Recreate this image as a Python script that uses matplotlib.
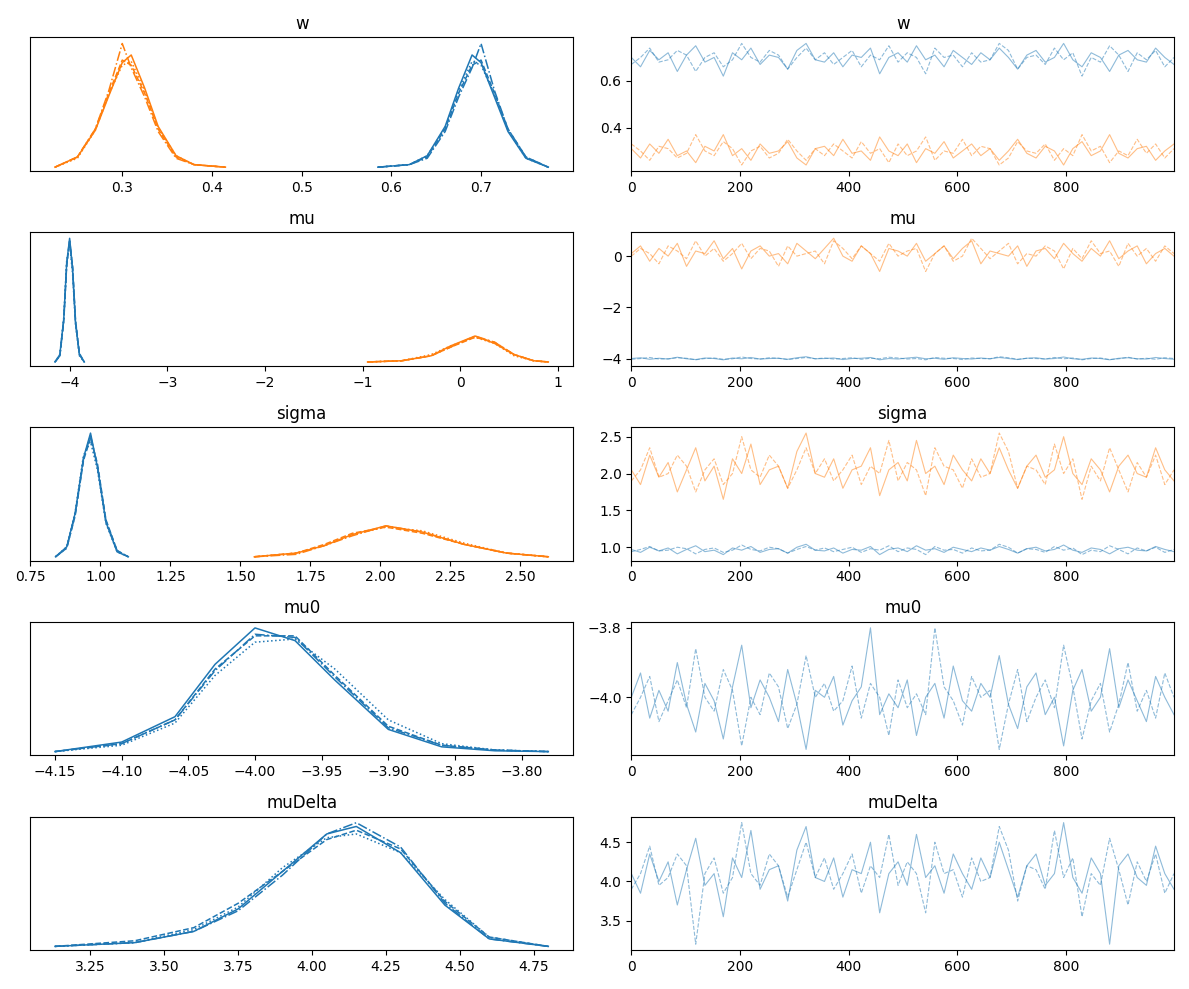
import numpy as np
import matplotlib
matplotlib.use("Agg")
import matplotlib.pyplot as plt

names = ["w", "mu", "sigma", "mu0", "muDelta"]
styles = ["-", "--", ":", "-."]

# KDE curves: x grid and density per chain (4 chains)
w_b_x = [0.585, 0.62, 0.64, 0.66, 0.675, 0.69, 0.70, 0.715, 0.73, 0.75, 0.775]
w_b_y = [[0, 0.02, 0.09, 0.32, 0.62, 0.88, 0.82, 0.55, 0.28, 0.07, 0],
         [0, 0.02, 0.08, 0.30, 0.58, 0.80, 0.84, 0.58, 0.30, 0.08, 0],
         [0, 0.02, 0.09, 0.31, 0.60, 0.83, 0.80, 0.57, 0.29, 0.07, 0],
         [0, 0.02, 0.07, 0.28, 0.55, 0.78, 0.97, 0.60, 0.30, 0.08, 0]]
w_o_x = [0.225, 0.25, 0.27, 0.285, 0.30, 0.31, 0.325, 0.34, 0.36, 0.38, 0.415]
w_o_y = [[0, 0.08, 0.29, 0.56, 0.82, 0.88, 0.62, 0.32, 0.09, 0.02, 0],
         [0, 0.08, 0.30, 0.58, 0.84, 0.80, 0.58, 0.30, 0.08, 0.02, 0],
         [0, 0.07, 0.29, 0.57, 0.80, 0.83, 0.60, 0.31, 0.09, 0.02, 0],
         [0, 0.08, 0.30, 0.60, 0.97, 0.78, 0.55, 0.28, 0.07, 0.02, 0]]
mu_b_x = [-4.15, -4.10, -4.06, -4.03, -4.0, -3.97, -3.94, -3.90, -3.85]
mu_b_y = [[0, 0.06, 0.35, 0.80, 1.0, 0.75, 0.32, 0.06, 0],
          [0, 0.05, 0.33, 0.78, 0.97, 0.78, 0.34, 0.07, 0],
          [0, 0.06, 0.36, 0.82, 0.95, 0.72, 0.30, 0.05, 0],
          [0, 0.05, 0.34, 0.79, 0.99, 0.76, 0.33, 0.06, 0]]
mu_o_x = [-0.95, -0.6, -0.3, -0.1, 0.15, 0.35, 0.55, 0.75, 0.9]
mu_o_y = [[0, 0.01, 0.05, 0.13, 0.21, 0.15, 0.06, 0.01, 0],
          [0, 0.01, 0.05, 0.12, 0.20, 0.16, 0.06, 0.01, 0],
          [0, 0.01, 0.06, 0.13, 0.20, 0.15, 0.05, 0.01, 0],
          [0, 0.01, 0.05, 0.12, 0.21, 0.16, 0.06, 0.01, 0]]
sg_b_x = [0.84, 0.88, 0.91, 0.94, 0.965, 0.99, 1.02, 1.06, 1.10]
sg_b_y = [[0, 0.08, 0.35, 0.80, 1.0, 0.72, 0.28, 0.04, 0],
          [0, 0.07, 0.33, 0.78, 0.96, 0.75, 0.30, 0.05, 0],
          [0, 0.08, 0.36, 0.82, 0.93, 0.70, 0.27, 0.04, 0],
          [0, 0.07, 0.34, 0.79, 0.98, 0.73, 0.29, 0.05, 0]]
sg_o_x = [1.55, 1.70, 1.80, 1.90, 2.02, 2.15, 2.30, 2.45, 2.60]
sg_o_y = [[0, 0.03, 0.09, 0.18, 0.25, 0.20, 0.10, 0.03, 0],
          [0, 0.03, 0.10, 0.19, 0.24, 0.19, 0.10, 0.03, 0],
          [0, 0.03, 0.09, 0.18, 0.24, 0.21, 0.11, 0.03, 0],
          [0, 0.02, 0.09, 0.17, 0.25, 0.20, 0.10, 0.03, 0]]
mu0_x = [-4.15, -4.10, -4.06, -4.03, -4.0, -3.97, -3.94, -3.90, -3.86, -3.82, -3.78]
mu0_y = [[0, 0.06, 0.22, 0.55, 0.78, 0.70, 0.45, 0.14, 0.03, 0.005, 0],
         [0, 0.05, 0.20, 0.52, 0.73, 0.73, 0.48, 0.16, 0.04, 0.01, 0],
         [0, 0.04, 0.18, 0.48, 0.69, 0.71, 0.52, 0.20, 0.05, 0.01, 0],
         [0, 0.05, 0.20, 0.51, 0.74, 0.72, 0.47, 0.15, 0.04, 0.01, 0]]
md_x = [3.13, 3.40, 3.60, 3.75, 3.90, 4.05, 4.15, 4.30, 4.45, 4.60, 4.80]
md_y = [[0, 0.02, 0.08, 0.20, 0.40, 0.60, 0.64, 0.50, 0.22, 0.04, 0],
        [0, 0.03, 0.10, 0.23, 0.40, 0.57, 0.62, 0.52, 0.24, 0.05, 0],
        [0, 0.02, 0.09, 0.21, 0.42, 0.58, 0.60, 0.50, 0.25, 0.05, 0],
        [0, 0.02, 0.08, 0.19, 0.38, 0.60, 0.66, 0.53, 0.23, 0.04, 0]]

# trace draws (read approximately)
w_b_tr = [0.70,0.66,0.73,0.69,0.72,0.64,0.71,0.75,0.68,0.70,0.62,0.72,0.69,0.74,0.67,0.71,0.70,0.65,0.73,0.76,
          0.69,0.68,0.72,0.66,0.71,0.70,0.74,0.63,0.70,0.72,0.68,0.75,0.69,0.71,0.66,0.73,0.70,0.67,0.72,0.69,
          0.74,0.70,0.65,0.71,0.73,0.68,0.70,0.76,0.69,0.66,0.72,0.70,0.64,0.71,0.73,0.69,0.68,0.74,0.70,0.67]
w_o_tr = [0.31,0.27,0.33,0.29,0.35,0.28,0.30,0.25,0.32,0.30,0.37,0.28,0.31,0.26,0.33,0.29,0.30,0.34,0.27,0.24,
          0.31,0.32,0.28,0.35,0.29,0.30,0.26,0.36,0.30,0.28,0.33,0.25,0.31,0.29,0.34,0.27,0.30,0.33,0.28,0.31,
          0.26,0.30,0.35,0.29,0.27,0.32,0.30,0.24,0.31,0.34,0.28,0.30,0.37,0.29,0.27,0.31,0.32,0.26,0.30,0.33]
mu_o_tr = [0.1,0.4,-0.2,0.3,0.0,0.5,-0.4,0.2,0.1,0.6,-0.1,0.3,-0.5,0.2,0.4,0.0,0.1,-0.3,0.5,0.2,
           -0.1,0.3,0.7,0.0,-0.2,0.4,0.1,-0.6,0.3,0.2,0.0,0.5,-0.2,0.1,0.4,-0.1,0.3,0.6,-0.3,0.2,
           0.1,0.0,0.4,-0.4,0.2,0.3,-0.1,0.5,0.1,-0.2,0.3,0.0,0.6,-0.1,0.2,0.4,-0.3,0.1,0.3,0.0]
mu_b_tr = [-4.00,-3.97,-4.03,-3.99,-4.02,-3.95,-4.01,-4.04,-3.98,-4.00,-4.05,-3.98,-4.01,-3.96,-4.02,-4.00,-3.99,-4.03,-3.97,-3.93,
           -4.01,-4.00,-3.98,-4.04,-4.00,-3.99,-3.96,-4.05,-4.00,-4.02,-3.98,-3.95,-4.01,-3.99,-4.03,-3.97,-4.00,-4.02,-3.98,-4.01,
           -3.96,-4.00,-4.04,-3.99,-3.97,-4.02,-4.00,-3.94,-4.01,-4.03,-3.98,-4.00,-4.05,-3.99,-3.97,-4.01,-4.02,-3.96,-4.00,-4.03]
sg_o_tr = [2.05,1.85,2.25,1.95,2.15,1.75,2.05,2.35,1.90,2.10,1.65,2.20,2.00,2.40,1.85,2.05,2.10,1.80,2.30,2.55,
           2.00,1.95,2.20,1.80,2.05,2.10,2.35,1.70,2.05,2.15,1.90,2.45,2.00,2.10,1.85,2.25,2.05,1.90,2.20,2.00,
           2.35,2.05,1.80,2.10,2.25,1.95,2.05,2.50,2.00,1.85,2.20,2.05,1.75,2.10,2.25,2.00,1.95,2.35,2.05,1.90]
sg_b_tr = [0.97,0.93,1.00,0.95,0.99,0.91,0.97,1.02,0.94,0.96,0.90,0.99,0.96,1.01,0.93,0.97,0.98,0.92,1.00,1.04,
           0.96,0.95,0.99,0.92,0.97,0.96,1.01,0.90,0.97,0.99,0.94,1.02,0.96,0.98,0.93,1.00,0.97,0.94,0.99,0.96,
           1.01,0.97,0.92,0.98,1.00,0.95,0.97,1.03,0.96,0.93,0.99,0.97,0.91,0.98,1.00,0.96,0.95,1.01,0.97,0.94]
mu0_tr = [-4.00,-3.93,-4.06,-3.98,-4.04,-3.90,-4.02,-4.10,-3.96,-4.01,-4.12,-3.97,-3.85,-4.03,-3.95,-4.00,-4.07,-3.92,-4.02,-4.15,
          -3.98,-4.00,-3.94,-4.08,-4.01,-3.97,-3.80,-4.05,-3.99,-4.03,-3.95,-4.11,-4.00,-3.96,-4.06,-3.91,-4.01,-4.04,-3.96,-4.00,
          -3.88,-4.02,-4.09,-3.97,-3.93,-4.05,-4.00,-4.14,-3.98,-3.92,-4.04,-4.00,-3.86,-4.03,-3.95,-4.01,-4.07,-3.94,-4.00,-4.05]
md_tr = [4.10,3.85,4.35,4.00,4.25,3.70,4.15,4.55,3.95,4.10,3.55,4.30,4.05,4.65,3.90,4.15,4.20,3.75,4.40,4.70,
         4.05,4.00,4.30,3.80,4.15,4.10,4.50,3.60,4.10,4.25,3.95,4.60,4.05,4.20,3.85,4.35,4.10,3.90,4.30,4.05,
         4.50,4.15,3.80,4.20,4.35,3.95,4.10,4.75,4.05,3.85,4.30,4.10,3.20,4.20,4.35,4.05,3.95,4.45,4.10,3.90]

kde_sets = [[("C1", w_o_x, w_o_y), ("C0", w_b_x, w_b_y)],
            [("C0", mu_b_x, mu_b_y), ("C1", mu_o_x, mu_o_y)],
            [("C0", sg_b_x, sg_b_y), ("C1", sg_o_x, sg_o_y)],
            [("C0", mu0_x, mu0_y)],
            [("C0", md_x, md_y)]]
trace_sets = [[("C0", w_b_tr), ("C1", w_o_tr)],
              [("C1", mu_o_tr), ("C0", mu_b_tr)],
              [("C1", sg_o_tr), ("C0", sg_b_tr)],
              [("C0", mu0_tr)],
              [("C0", md_tr)]]
left_ticks = [[0.3, 0.4, 0.5, 0.6, 0.7], [-4, -3, -2, -1, 0, 1],
              [0.75, 1.0, 1.25, 1.5, 1.75, 2.0, 2.25, 2.5],
              [-4.15, -4.10, -4.05, -4.00, -3.95, -3.90, -3.85, -3.80],
              [3.25, 3.5, 3.75, 4.0, 4.25, 4.5, 4.75]]
right_ticks = [[0.4, 0.6], [-4, -2, 0], [1.0, 1.5, 2.0, 2.5], [-4.0, -3.8], [3.5, 4.0, 4.5]]

fig, axes = plt.subplots(5, 2, figsize=(11.89, 9.89), dpi=100)
for i, name in enumerate(names):
    axl, axr = axes[i]
    for col, xs, ys in kde_sets[i]:
        for c, y in enumerate(ys):
            axl.plot(xs, y, color=col, ls=styles[c], lw=1.1)
    axl.set_yticks([])
    axl.set_ylim(bottom=-0.03 * axl.get_ylim()[1])
    axl.set_xticks(left_ticks[i])
    axl.set_title(name)
    for col, tr in trace_sets[i]:
        xs = np.linspace(0, 999, len(tr))
        axr.plot(xs, tr, color=col, lw=0.8, alpha=0.5)
        axr.plot(xs, tr[::-1], color=col, lw=0.8, alpha=0.5, ls="--")
    axr.set_xlim(0, 999)
    axr.set_xticks([0, 200, 400, 600, 800])
    axr.set_yticks(right_ticks[i])
    axr.set_title(name)
fig.tight_layout()
fig.savefig("out.png")
